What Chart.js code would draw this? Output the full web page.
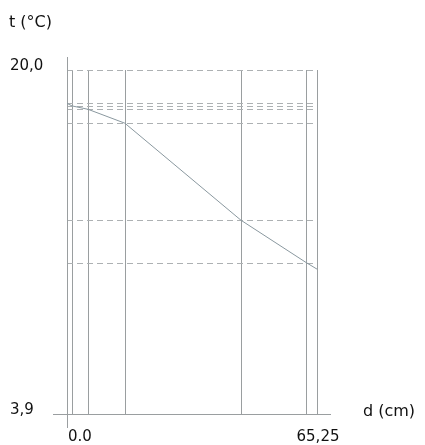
<!DOCTYPE html>
<html lang="es">
<head>
  <meta charset="UTF-8">
  <title>t (°C) - d (cm)</title>
  <script src="https://cdn.jsdelivr.net/npm/chart.js"></script>
  <style>
    body {
      margin: 0;
      background-color: #fff;
    }
    canvas {
      display: block;
    }
  </style>
</head>
<body>
  <canvas id="grafico" width="425" height="445"></canvas>

  <script>
    // Datos
    const dValores = [0, 1.3, 5.5, 15.1, 45.4, 62.4, 65.25];
    const tValores = [18.44, 18.32, 18.16, 17.51, 12.97, 10.99, 10.68];
    const nivelesT = [20.0, 18.44, 18.32, 18.16, 17.51, 12.97, 10.99];
    const etiquetasX = [{ v: 0, texto: '0.0' }, { v: 65.25, texto: '65,25' }];
    const etiquetasY = [{ v: 20.0, texto: '20,0' }, { v: 3.9, texto: '3,9' }];

    const dMin = 0, dMax = 65.25;
    const tMin = 3.9, tMax = 20.0;

    // Líneas de referencia y textos
    const ejes = {
      id: 'ejes',
      beforeDatasetsDraw(chart) {
        const { ctx, scales: { x, y } } = chart;
        const x0 = x.getPixelForValue(dMin), x1 = x.getPixelForValue(dMax);
        const y0 = y.getPixelForValue(tMin), y1 = y.getPixelForValue(tMax);
        ctx.save();
        ctx.lineWidth = 1;

        // líneas verticales
        ctx.strokeStyle = '#9a9ea0';
        dValores.forEach(d => {
          if (d === dMin) return;
          const px = Math.round(x.getPixelForValue(d)) + 0.5;
          ctx.beginPath();
          ctx.moveTo(px, y1);
          ctx.lineTo(px, y0);
          ctx.stroke();
        });

        // líneas horizontales discontinuas
        ctx.strokeStyle = '#adb1b3';
        ctx.setLineDash([6, 4]);
        nivelesT.forEach(t => {
          const py = Math.round(y.getPixelForValue(t)) + 0.5;
          ctx.beginPath();
          ctx.moveTo(x0, py);
          ctx.lineTo(x1, py);
          ctx.stroke();
        });
        ctx.setLineDash([]);

        // ejes
        ctx.strokeStyle = '#9a9ea0';
        const ax = Math.round(x0) + 0.5;
        ctx.beginPath();
        ctx.moveTo(ax, y1 - 13);
        ctx.lineTo(ax, y0 + 14);
        ctx.stroke();
        const ay = Math.round(y0) + 0.5;
        ctx.beginPath();
        ctx.moveTo(x0 - 14, ay);
        ctx.lineTo(x1 + 14, ay);
        ctx.stroke();

        // textos
        ctx.fillStyle = '#111';
        ctx.textBaseline = 'middle';
        ctx.textAlign = 'left';
        ctx.font = '16px "DejaVu Sans", sans-serif';
        ctx.fillText('t (°C)', 9, 23);
        ctx.fillText('d (cm)', 363, y0 - 2);
        ctx.font = '15px "DejaVu Sans", sans-serif';
        etiquetasY.forEach(e => ctx.fillText(e.texto, 10, y.getPixelForValue(e.v) - 4));
        ctx.fillText(etiquetasX[0].texto, x.getPixelForValue(etiquetasX[0].v) + 1, 437);
        ctx.textAlign = 'center';
        ctx.fillText(etiquetasX[1].texto, x.getPixelForValue(etiquetasX[1].v) + 1, 437);
        ctx.restore();
      }
    };

    const ctx = document.getElementById('grafico').getContext('2d');
    new Chart(ctx, {
      type: 'scatter',
      data: {
        datasets: [{
          data: dValores.map((d, i) => ({ x: d, y: tValores[i] })),
          showLine: true,
          borderColor: '#8a989f',
          borderWidth: 1,
          pointRadius: 0,
          fill: false
        }]
      },
      options: {
        responsive: false,
        animation: false,
        layout: { padding: { left: 67, right: 108, top: 70, bottom: 31 } },
        plugins: { legend: { display: false }, tooltip: { enabled: false } },
        scales: {
          x: { type: 'linear', min: dMin, max: dMax, display: false },
          y: { type: 'linear', min: tMin, max: tMax, display: false }
        }
      },
      plugins: [ejes]
    });
  </script>
</body>
</html>
